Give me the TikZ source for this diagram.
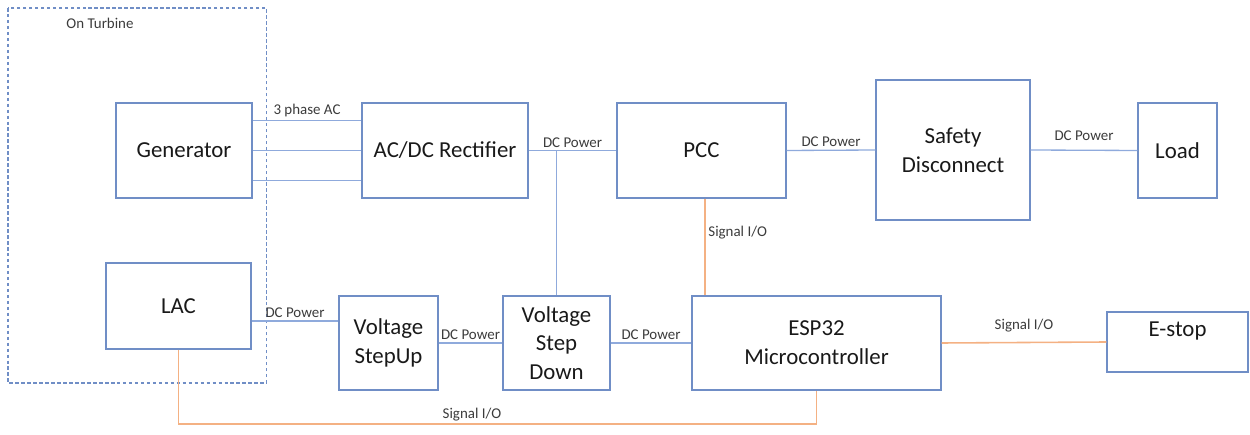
\documentclass[tikz,border=0pt]{standalone}
\usepackage{fontspec}
\setmainfont{Carlito}
\usepackage{tikz}
\usetikzlibrary{
  arrows.meta,
  positioning,
  calc
}
\definecolor{borda}{RGB}{112,142,198}
\definecolor{fioazul}{RGB}{143,170,220}
\definecolor{fiolaranja}{RGB}{244,177,131}
\definecolor{texto}{RGB}{25,25,25}

\begin{document}
\begin{tikzpicture}[
      bloco/.style={draw=borda, line width=0.8pt, align=center, text=texto, inner sep=1pt, font=\fontsize{13}{16.4}\selectfont},
      linha/.style={draw=fioazul, line width=0.75pt},
      sinal/.style={draw=fiolaranja, line width=0.9pt},
      rotulo/.style={font=\fontsize{8.5}{10}\selectfont, text=texto!85, inner sep=1.5pt}
  ]
    \useasboundingbox (0,0) rectangle (25,-8.7);

    % Area da turbina
    \draw [borda, line width=0.6pt, dash pattern=on 2pt off 1.4pt] (0.16,-0.16) rectangle (5.33,-7.66);
    \node [rotulo] (turb) at (2.0,-0.46) {On Turbine};

    % Blocos de potencia
    \node [bloco, minimum width=2.72cm, minimum height=1.9cm] (gen) at (3.68,-3.01) {Generator};
    \node [bloco, minimum width=3.32cm, minimum height=1.9cm] (ret) at (8.9,-3.01) {AC/DC Rectifier};
    \node [bloco, minimum width=3.38cm, minimum height=1.9cm] (pcc) at (14.03,-3.01) {PCC};
    \node [bloco, minimum width=3.08cm, minimum height=2.8cm] (seg) at (19.06,-3.0) {Safety\\Disconnect};
    \node [bloco, minimum width=1.58cm, minimum height=1.9cm] (carga) at (23.55,-3.01) {Load};

    % Blocos de controle
    \node [bloco, minimum width=2.9cm, minimum height=1.72cm] (lac) at (3.57,-6.12) {LAC};
    \node [bloco, minimum width=1.98cm, minimum height=1.88cm] (elev) at (7.77,-6.86) {Voltage\\StepUp};
    \node [bloco, minimum width=2.14cm, minimum height=1.88cm] (abaix) at (11.13,-6.86) {Voltage\\Step\\Down};
    \node [bloco, minimum width=4.98cm, minimum height=1.88cm] (esp) at (16.33,-6.86) {ESP32\\Microcontroller};
    \node [bloco, minimum width=2.82cm, minimum height=1.2cm] (estop) at (23.55,-6.84) {E-stop\\[-7pt]\strut};

    % Trifasico
    \draw [linha] ([yshift=0.6cm]gen.east) -- node [rotulo, above] {3 phase AC} ([yshift=0.6cm]ret.west);
    \draw [linha] (gen.east) -- (ret.west);
    \draw [linha] ([yshift=-0.6cm]gen.east) -- ([yshift=-0.6cm]ret.west);

    % Linhas DC
    \draw [linha] (ret.east) -- node [rotulo, above] {DC Power} (pcc.west);
    \draw [linha] (pcc.east) -- node [rotulo, above] {DC Power} (seg.west);
    \draw [linha] (seg.east) -- node [rotulo, above=3.5pt] {DC Power} (carga.west);
    \draw [linha] (abaix.north) -- (abaix.north |- ret.east);
    \coordinate (lacsai) at ([yshift=-0.3cm]lac.east);
    \draw [linha] (lacsai) -- node [rotulo, above] {DC Power} (elev.west |- lacsai);
    \draw [linha] (elev.east) -- node [rotulo, above] {DC Power} (abaix.west);
    \draw [linha] (abaix.east) -- node [rotulo, above] {DC Power} (esp.west);

    % Sinais
    \coordinate (barra) at (0,-8.48);
    \draw [sinal] ([xshift=0.07cm]pcc.south) -- node [rotulo, right, pos=0.35] {Signal I/O} ([xshift=0.07cm]pcc.south |- esp.north);
    \draw [sinal] (esp.east) -- node [rotulo, above=4pt] {Signal I/O} (estop.west);
    \draw [sinal] (lac.south) -- (lac.south |- barra) -- node [rotulo, above, pos=0.46] {Signal I/O} (esp.south |- barra) -- (esp.south);
  \end{tikzpicture}
\end{document}
